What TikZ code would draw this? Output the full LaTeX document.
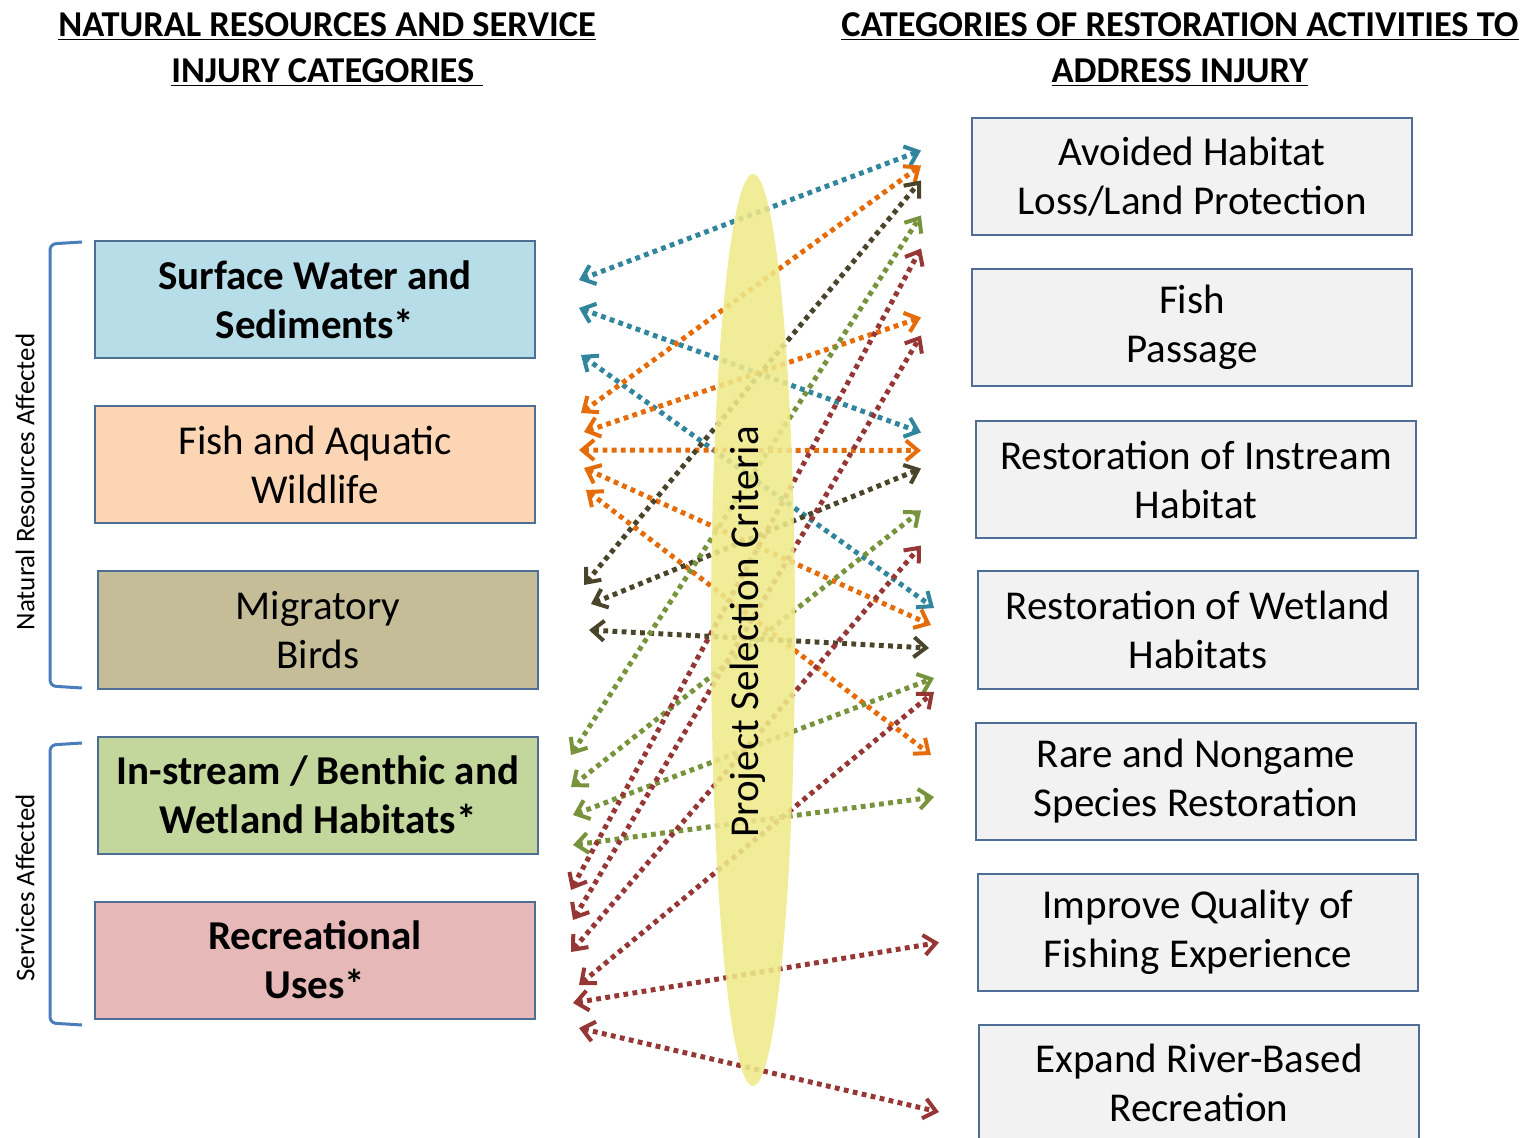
\documentclass[tikz,border=0pt]{standalone}
\usepackage{fontspec}
\setmainfont{Carlito}
\usepackage{pgf,tikz}
\usetikzlibrary{arrows.meta,positioning,shapes.geometric,calc}

\definecolor{boxline}{HTML}{4F6E96}
\definecolor{brace}{HTML}{4A7EBB}
\definecolor{swblue}{HTML}{B7DDE8}
\definecolor{fishorange}{HTML}{FCD5B5}
\definecolor{birdtan}{HTML}{C4BD97}
\definecolor{habgreen}{HTML}{C3D69B}
\definecolor{recpink}{HTML}{E6B9B8}
\definecolor{restgray}{HTML}{F2F2F2}
\definecolor{crityellow}{HTML}{EFE98A}
\definecolor{lnkblue}{HTML}{31859C}
\definecolor{lnkorange}{HTML}{E46C0A}
\definecolor{lnkdark}{HTML}{4A452A}
\definecolor{lnkgreen}{HTML}{77933C}
\definecolor{lnkred}{HTML}{953735}

\tikzset{
  injbox/.style={draw=boxline,line width=1pt,minimum width=220pt,minimum height=58.5pt,
    inner sep=0pt,align=center,font=\fontsize{20.5}{24.5}\selectfont},
  injbold/.style={injbox,font=\fontsize{20.5}{24.5}\selectfont\bfseries},
  restbox/.style={injbox,fill=restgray},
  header/.style={align=center,font=\fontsize{18.2}{23}\selectfont\bfseries},
  sidelabel/.style={rotate=90,font=\fontsize{13.5}{16}\selectfont},
  link/.style={line width=2.5pt,dash pattern=on 2.4pt off 2.2pt,
    {Straight Barb[length=6pt,width=10pt,line width=2pt]}-{Straight Barb[length=6pt,width=10pt,line width=2pt]}}
}

\begin{document}
\begin{tikzpicture}[x=0.5pt,y=-0.5pt]
\useasboundingbox (0,0) rectangle (1526,1138);

% headers
\node[header] (lefthead) at (327,50) {\underline{NATURAL RESOURCES AND SERVICE}\\\underline{INJURY CATEGORIES\ }};
\node[header] (righthead) at (1180,50) {\underline{CATEGORIES OF RESTORATION ACTIVITIES TO}\\\underline{ADDRESS INJURY}};

% injury categories
\node[injbold,fill=swblue] (sw) at (315,300) {Surface Water and\\Sediments*};
\node[injbox,fill=fishorange] (fish) at (315,465) {Fish and Aquatic\\Wildlife};
\node[injbox,fill=birdtan] (birds) at (318,630) {Migratory\\Birds};
\node[injbold,fill=habgreen] (instream) at (318,795) {In-stream / Benthic and\\Wetland Habitats*};
\node[injbold,fill=recpink] (rec) at (315,960) {Recreational\\Uses*};

% restoration categories
\node[restbox] (avoid) at (1192,176.5) {Avoided Habitat\\Loss/Land Protection};
\node[restbox] (passage) at (1192,327.5) {Fish\\Passage};
\node[restbox] (inhab) at (1196,479.5) {Restoration of Instream\\Habitat};
\node[restbox] (wetland) at (1198,630) {Restoration of Wetland\\Habitats};
\node[restbox] (rare) at (1196,781) {Rare and Nongame\\Species Restoration};
\node[restbox] (quality) at (1198,932.5) {Improve Quality of\\Fishing Experience};
\node[restbox] (river) at (1199,1083) {Expand River-Based\\Recreation};

% brackets
\draw[brace,line width=1.5pt,rounded corners=3pt] (82,242) -- (50,244) -- (50,686) -- (82,688);
\draw[brace,line width=1.5pt,rounded corners=3pt] (82,743) -- (50,745) -- (50,1023) -- (82,1025);
\node[sidelabel] (natlabel) at (25,482) {Natural Resources Affected};
\node[sidelabel] (servlabel) at (25,888) {Services Affected};

% surface water
\draw[link,lnkblue] ([shift={(43,-20)}]sw.east) -- ([shift={(-50,-26)}]avoid.west);
\draw[link,lnkblue] ([shift={(43,8)}]sw.east) -- ([shift={(-54,-47)}]inhab.west);
\draw[link,lnkblue] ([shift={(45,55)}]sw.east) -- ([shift={(-43,-22)}]wetland.west);

% fish and aquatic wildlife
\draw[link,lnkorange] ([shift={(45,-52)}]fish.east) -- ([shift={(-50,-11)}]avoid.west);
\draw[link,lnkorange] ([shift={(48,-33)}]fish.east) -- ([shift={(-50,-10)}]passage.west);
\draw[link,lnkorange] ([shift={(43,-15)}]fish.east) -- ([shift={(-54,-29)}]inhab.west);
\draw[link,lnkorange] ([shift={(48,3)}]fish.east) -- ([shift={(-46,-5)}]wetland.west);
\draw[link,lnkorange] ([shift={(50,25)}]fish.east) -- ([shift={(-44,-26)}]rare.west);

% migratory birds
\draw[link,lnkdark] ([shift={(45,-45)}]birds.east) -- ([shift={(-50,4)}]avoid.west);
\draw[link,lnkdark] ([shift={(52,-26)}]birds.east) -- ([shift={(-54,-11)}]inhab.west);
\draw[link,lnkdark] ([shift={(50,0)}]birds.east) -- ([shift={(-48,18)}]wetland.west);

% in-stream / benthic and wetland habitats
\draw[link,lnkgreen] ([shift={(32,-40)}]instream.east) -- ([shift={(-50,39)}]avoid.west);
\draw[link,lnkgreen] ([shift={(32,-8)}]instream.east) -- ([shift={(-54,31)}]inhab.west);
\draw[link,lnkgreen] ([shift={(34,20)}]instream.east) -- ([shift={(-43,48)}]wetland.west);
\draw[link,lnkgreen] ([shift={(34,50)}]instream.east) -- ([shift={(-41,16)}]rare.west);

% recreational uses
\draw[link,lnkred] ([shift={(35,-70)}]rec.east) -- ([shift={(-50,72)}]avoid.west);
\draw[link,lnkred] ([shift={(37,-40)}]rec.east) -- ([shift={(-50,8)}]passage.west);
\draw[link,lnkred] ([shift={(35,-8)}]rec.east) -- ([shift={(-54,66)}]inhab.west);
\draw[link,lnkred] ([shift={(43,25)}]rec.east) -- ([shift={(-43,62)}]wetland.west);
\draw[link,lnkred] ([shift={(37,43)}]rec.east) -- ([shift={(-38,10)}]quality.west);
\draw[link,lnkred] ([shift={(43,68)}]rec.east) -- ([shift={(-39,29)}]river.west);

% selection criteria
\fill[crityellow,fill opacity=0.88] (753,630) ellipse [x radius=42,y radius=456];
\node[rotate=90,font=\fontsize{20.5}{24.5}\selectfont] (crit) at (748,632) {Project Selection Criteria};
\end{tikzpicture}
\end{document}
